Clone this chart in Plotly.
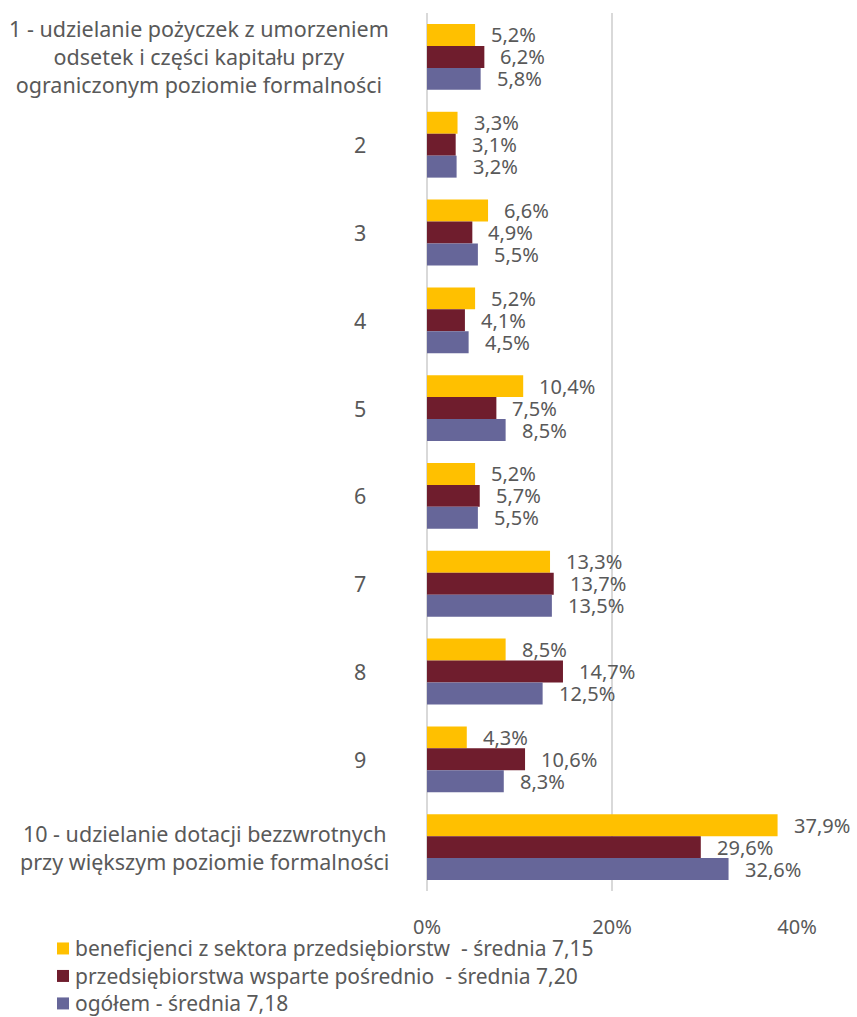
import plotly.graph_objects as go

categories = [
    "1 - udzielanie pożyczek z umorzeniem<br>odsetek i części kapitału przy<br>ograniczonym poziomie formalności",
    "2", "3", "4", "5", "6", "7", "8", "9",
    "10 - udzielanie dotacji bezzwrotnych<br>przy większym poziomie formalności",
]

series_names = [
    "beneficjenci z sektora przedsiębiorstw  - średnia 7,15",
    "przedsiębiorstwa wsparte pośrednio  - średnia 7,20",
    "ogółem - średnia 7,18",
]

beneficjenci = [5.2, 3.3, 6.6, 5.2, 10.4, 5.2, 13.3, 8.5, 4.3, 37.9]
posrednio = [6.2, 3.1, 4.9, 4.1, 7.5, 5.7, 13.7, 14.7, 10.6, 29.6]
ogolem = [5.8, 3.2, 5.5, 4.5, 8.5, 5.5, 13.5, 12.5, 8.3, 32.6]

x_ticks = [0, 20, 40]
x_tick_labels = ["0%", "20%", "40%"]

colors = ["#FFC000", "#6F1D2D", "#666699"]
TEXT = "#595959"
FONT = "Noto Sans"

W, H = 857, 1017
M_L, M_R, M_T, M_B = 427, 60, 13, 125.5
PLOT_W = W - M_L - M_R
PLOT_H = H - M_T - M_B


def px_to_paper(px, py):
    """Convert page pixel position to paper coordinates."""
    return (px - M_L) / PLOT_W, (H - M_B - py) / PLOT_H


all_series = [beneficjenci, posrednio, ogolem]

fig = go.Figure()
for name, vals, col in zip(series_names, all_series, colors):
    fig.add_trace(go.Bar(
        y=categories, x=vals, name=name, orientation="h",
        marker=dict(color=col, line=dict(width=0)),
    ))

# value labels just past the end of each bar; series stacked top-to-bottom in a group
for k, vals in enumerate(all_series):
    for i, v in enumerate(vals):
        fig.add_annotation(
            x=v, xref="x", y=i, yref="y",
            text=f"{v:.1f}%".replace(".", ","),
            xanchor="left", yanchor="middle", xshift=15, yshift=(1 - k) * 22,
            showarrow=False, borderpad=0,
            font=dict(family=FONT, size=20, color=TEXT),
        )

# category labels, centred line by line
for i, cat in enumerate(categories):
    multi = "<br>" in cat
    fig.add_annotation(
        x=0, xref="paper", y=i, yref="y", text=cat,
        xanchor="right", yanchor="middle", align="center",
        xshift=-37 if multi else -60, showarrow=False, borderpad=0,
        font=dict(family=FONT, size=21.5, color=TEXT),
    )

# legend below the chart: coloured square + series name per row
for k, (name, col) in enumerate(zip(series_names, colors)):
    row_y = 949 + k * 27.5
    x0, y0 = px_to_paper(57, row_y + 6)
    x1, y1 = px_to_paper(69, row_y - 6)
    fig.add_shape(type="rect", xref="paper", yref="paper",
                  x0=x0, x1=x1, y0=y0, y1=y1,
                  fillcolor=col, line=dict(width=0))
    tx, ty = px_to_paper(74, row_y)
    fig.add_annotation(
        x=tx, y=ty, xref="paper", yref="paper", text=name,
        xanchor="left", yanchor="middle", showarrow=False, borderpad=0,
        font=dict(family=FONT, size=21, color=TEXT),
    )

fig.update_layout(
    width=W, height=H,
    margin=dict(l=M_L, r=M_R, t=M_T, b=M_B, autoexpand=False),
    paper_bgcolor="white", plot_bgcolor="white",
    barmode="group", bargap=0.25, bargroupgap=0,
    font=dict(family=FONT, size=21, color=TEXT),
    showlegend=False,
    xaxis=dict(
        range=[0, 40], tickvals=x_ticks, ticktext=x_tick_labels,
        showgrid=True, gridcolor="#D9D9D9", gridwidth=2,
        zeroline=True, zerolinecolor="#D9D9D9", zerolinewidth=2,
        showline=False, ticks="", ticklabelstandoff=22,
        tickfont=dict(family=FONT, size=20, color=TEXT),
    ),
    yaxis=dict(
        autorange="reversed", showticklabels=False, showgrid=False,
        zeroline=False, showline=False, ticks="",
    ),
)

fig.write_html("out.html")
